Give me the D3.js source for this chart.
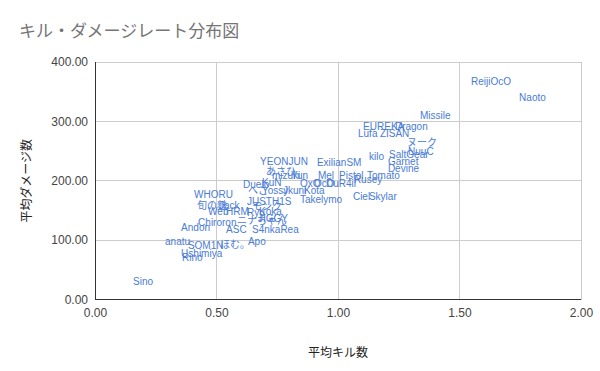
<!DOCTYPE html>
<html><head><meta charset="utf-8">
<script src="https://cdn.jsdelivr.net/npm/d3@7"></script>
<style>
html,body{margin:0;padding:0;background:#fff;}
svg{display:block;}
</style>
</head><body>
<svg id="chart" width="600" height="371"></svg>
<script>
const title = "キル・ダメージレート分布図";
const xTitle = "平均キル数";
const yTitle = "平均ダメージ数";
const xTicks = [0, 0.5, 1.0, 1.5, 2.0];
const yTicks = [0, 100, 200, 300, 400];

const names = ["ReijiOcO","Naoto","Missile","EUREKA","Dragon","Lufa","ZISAN","ヌーク","NuuC","kilo","SaltGear","Garnet","Devine",
 "YEONJUN","ExilianSM","あさひ","mizuki","Yun","Mel","Pistol","Tomato","Rusey","OxO","OcO","DuR4il","Duelo","KuN","へこ","Yossy","Jkuni","Kota",
 "Takelymo","Ciel","Skylar","WHORU","JUSTH1S","旬の麩","Jack","モンク","Web","HRM","Ryu","Koka","Chiroron","ニナちゃん","JIGGY","Andon","ASC","S4nkaRea",
 "anatu","SOM1N","ほむ。","Apo","Ushimiya","Rino","Sino"];
const kills = [1.535,1.733,1.325,1.091,1.222,1.070,1.160,1.272,1.276,1.115,1.198,1.193,1.193,
 0.667,0.901,0.691,0.716,0.794,0.905,0.992,1.107,1.053,0.831,0.889,0.938,0.597,0.675,0.617,0.675,0.761,0.848,
 0.831,1.049,1.115,0.395,0.613,0.407,0.498,0.634,0.453,0.527,0.613,0.663,0.412,0.572,0.658,0.342,0.527,0.634,
 0.276,0.370,0.502,0.617,0.342,0.346,0.144];
const damage = [367.8,340.9,310.6,292.1,292.1,280.3,280.3,265.2,250.0,241.6,244.9,233.2,221.4,
 233.2,231.5,216.3,209.6,209.6,209.6,209.6,209.6,202.9,196.1,196.1,196.1,194.4,197.8,184.3,184.3,184.3,184.3,
 169.2,174.2,174.2,177.6,165.8,159.1,159.1,157.4,148.6,148.6,147.3,148.6,130.5,133.8,137.2,122.1,118.7,118.7,
 98.5,91.7,93.4,98.5,78.3,69.9,31.1];

const svg = d3.select("#chart");
const W = 600, H = 371;
svg.append("rect").attr("width", W).attr("height", H).attr("fill", "#fff");

const pLeft = 95, pRight = 581, pTop = 62, pBottom = 299.5;
const x = d3.scaleLinear().domain([0, 2]).range([pLeft, pRight]);
const y = d3.scaleLinear().domain([0, 400]).range([pBottom, pTop]);
const latin = "'Liberation Sans', Arial, 'Noto Sans CJK JP', sans-serif";
const cjk = "'Noto Sans CJK JP', 'Liberation Sans', sans-serif";

// title
svg.append("text").attr("x", 19).attr("y", 37)
  .attr("font-family", cjk).attr("font-size", 17).attr("fill", "#757575").text(title);

// grid
const grid = svg.append("g");
grid.selectAll(".gx").data(xTicks.filter(d => d > 0)).join("line")
  .attr("x1", d => x(d)).attr("x2", d => x(d)).attr("y1", pTop).attr("y2", pBottom)
  .attr("stroke", "#cccccc").attr("stroke-width", 1).attr("shape-rendering", "crispEdges");
grid.selectAll(".gy").data(yTicks.filter(d => d > 0)).join("line")
  .attr("x1", pLeft).attr("x2", pRight).attr("y1", d => y(d)).attr("y2", d => y(d))
  .attr("stroke", "#cccccc").attr("stroke-width", 1).attr("shape-rendering", "crispEdges");

// axes
const xAxis = d3.axisBottom(x).tickValues(xTicks).tickFormat(d3.format(".2f")).tickSize(0).tickPadding(9);
const yAxis = d3.axisLeft(y).tickValues(yTicks).tickFormat(d3.format(".2f")).tickSize(0).tickPadding(7);
const gx = svg.append("g").attr("transform", `translate(0,${pBottom})`).call(xAxis);
const gy = svg.append("g").attr("transform", `translate(${pLeft},0)`).call(yAxis);
[gx, gy].forEach(g => {
  g.select(".domain").remove();
  g.selectAll("text").attr("font-family", latin).attr("font-size", 12).attr("fill", "#444");
});
svg.append("line").attr("x1", pLeft).attr("x2", pRight).attr("y1", pBottom).attr("y2", pBottom)
  .attr("stroke", "#333").attr("shape-rendering", "crispEdges");
svg.append("line").attr("x1", pLeft).attr("x2", pLeft).attr("y1", pTop).attr("y2", pBottom)
  .attr("stroke", "#333").attr("shape-rendering", "crispEdges");

// axis titles
svg.append("text").attr("x", (pLeft + pRight) / 2).attr("y", 357).attr("text-anchor", "middle")
  .attr("font-family", cjk).attr("font-size", 12).attr("fill", "#222").text(xTitle);
svg.append("text").attr("transform", `translate(31,${(pTop + pBottom) / 2}) rotate(-90)`)
  .attr("text-anchor", "middle")
  .attr("font-family", cjk).attr("font-size", 12).attr("fill", "#222").text(yTitle);

// labels
const data = names.map((n, i) => ({ n, k: kills[i], d: damage[i] }));
svg.append("g").selectAll("text").data(data).join("text")
  .attr("x", d => x(d.k) + 3).attr("y", d => y(d.d)).attr("dy", "0.35em")
  .attr("font-family", latin).attr("font-size", 10).attr("fill", "#4a7bd6")
  .text(d => d.n);
</script>
</body></html>
